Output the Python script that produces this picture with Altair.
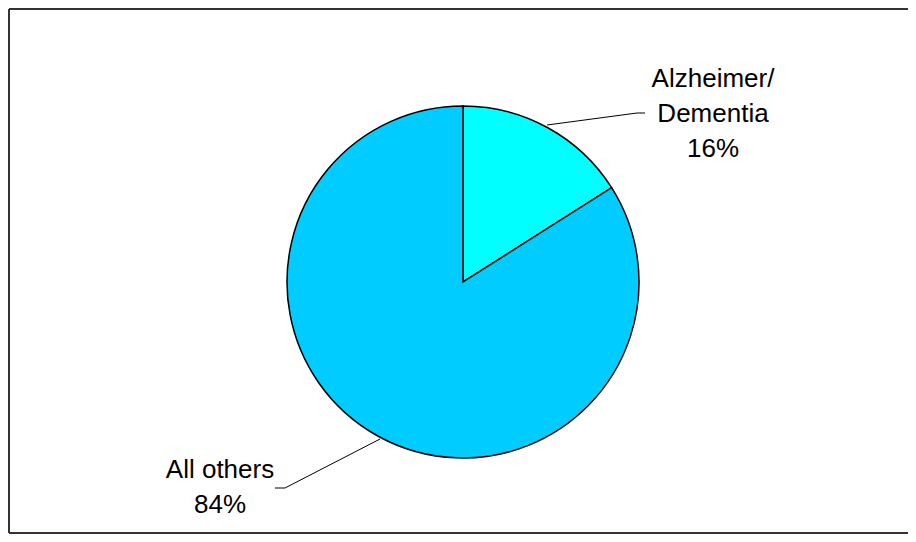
import altair as alt
import pandas as pd

categories = ["Alzheimer/ Dementia", "All others"]
shares = [16, 84]
colors = ["#00FFFF", "#00CCFF"]
label_lines = [["Alzheimer/", "Dementia", "16%"], ["All others", "84%"]]

df = pd.DataFrame({"category": categories, "share": shares, "order": [0, 1]})

W, H = 900, 526
CX, CY, R = 455, 274, 176

base = alt.Chart(df)

pie = base.mark_arc(radius=R, stroke="black", strokeWidth=1.5).encode(
    theta=alt.Theta("share:Q", stack=True),
    order=alt.Order("order:Q"),
    color=alt.Color("category:N", scale=alt.Scale(domain=categories, range=colors), legend=None),
    x=alt.value(CX),
    y=alt.value(CY),
)

font = "Liberation Sans"

def label(lines, x, y):
    return alt.Chart(df).mark_text(
        font=font, fontSize=26, align="center", baseline="alphabetic",
        lineHeight=35, color="black",
    ).encode(
        x=alt.value(x), y=alt.value(y), text=alt.value(lines)
    ).transform_filter("datum.order == 0")

lab1 = label(label_lines[0], 705, 79)
lab2 = label(label_lines[1], 212, 470)

def seg(x1, y1, x2, y2, color="black", width=1):
    return alt.Chart(df).mark_rule(color=color, strokeWidth=width).encode(
        x=alt.value(x1), y=alt.value(y1), x2=alt.value(x2), y2=alt.value(y2)
    ).transform_filter("datum.order == 0")

lines = [
    seg(539, 117, 629, 105), seg(629, 105, 637, 105),
    seg(372, 431, 277, 480), seg(277, 480, 267, 480),
]

border = [
    seg(1, 1, W, 1, "#333333", 2),
    seg(1, 1, 1, H - 1, "#333333", 2),
    seg(1, H - 1, W, H - 1, "#333333", 2),
]

chart = alt.layer(pie, lab1, lab2, *lines, *border).properties(
    width=W, height=H, padding=0, autosize="none"
).configure_view(stroke=None)

chart.save("out.html", embed_options={"renderer": "svg", "actions": False})
